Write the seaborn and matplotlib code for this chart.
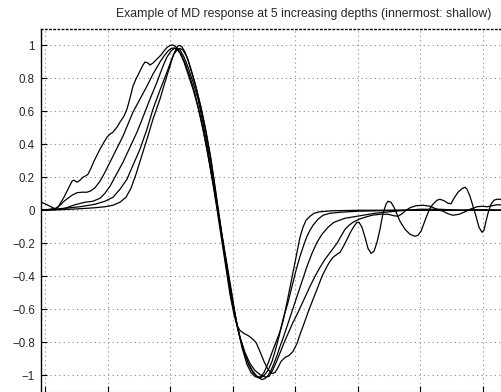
import numpy as np
import pandas as pd
import matplotlib
matplotlib.use("Agg")
import matplotlib.pyplot as plt
import seaborn as sns

# Pixel readings converted to data: x in grid units, y amplitude
PX0, PXU, PY0, PYU = 45.0, 62.5, 211.0, 164.5

c1_px = [41, 45, 50, 55, 58, 61, 64, 67, 70, 72, 74, 77, 80, 83, 86, 88, 91, 94, 97, 100, 104, 107, 110, 113, 117, 120, 124, 127, 130, 133, 136, 140, 143, 145, 148, 150, 153, 155, 158, 161, 164, 167, 170, 173, 176, 180, 184, 188, 193, 198, 203, 208, 213, 217, 221, 225, 230, 234, 237, 240, 244, 248, 252, 256, 260, 264, 268, 272, 275, 278, 281, 285, 289, 293, 297, 300, 303, 308, 313, 317, 322, 327, 330, 333, 337, 340, 344, 347, 351, 354, 357, 359, 362, 365, 368, 371, 374, 377, 380, 383, 386, 388, 391, 394, 397, 400, 405, 410, 415, 418, 421, 424, 427, 430, 433, 437, 440, 444, 448, 451, 454, 458, 462, 465, 467, 470, 473, 476, 479, 482, 484, 486, 488, 491, 494, 497, 500, 505, 510]
c1_py = [203, 204.5, 207, 209.5, 208, 203, 198, 192, 186, 182, 181, 183, 181, 178, 176.5, 175, 169, 162, 156, 150, 143, 138, 135, 133, 128, 123, 117, 110, 99, 87, 80, 72, 66, 63, 64, 66, 64, 62, 59, 56, 52, 48.5, 46.5, 46, 48, 54, 63, 75, 90, 108, 130, 156, 185, 210, 236, 262, 295, 315, 326, 331, 334, 336, 339, 343, 352, 362, 370, 374, 373, 368, 362, 358, 356, 352, 344, 335, 327, 313, 300, 290, 277, 267, 262, 258, 255, 253, 246, 240, 232, 227, 223, 223, 228, 238, 249, 254, 252, 243, 230, 214, 205, 202, 203, 208, 215, 222, 230, 235, 237, 236, 232, 224, 216, 209, 205, 201, 200, 201.5, 204, 204.5, 199, 193, 189.5, 188, 190, 197, 207, 217, 228, 233, 231, 222, 214, 205, 201, 200, 200, 202, 205]

c2_px = [41, 50, 56, 60, 64, 68, 72, 77, 82, 87, 91, 95, 100, 105, 110, 116, 123, 128, 133, 140, 147, 153, 160, 164, 168, 171, 174, 177, 181, 185, 190, 195, 200, 205, 210, 215, 219, 223, 227, 231, 236, 240, 245, 250, 255, 260, 265, 269, 273, 277, 281, 285, 289, 293, 298, 304, 310, 315, 320, 325, 331, 337, 341, 345, 349, 353, 359, 365, 372, 380, 388, 394, 398, 402, 406, 410, 416, 423, 430, 437, 443, 448, 453, 459, 464, 470, 477, 482, 487, 492, 497, 510]
c2_py = [211, 210, 209, 206, 202, 199, 196, 193.5, 193, 193, 191.5, 188.5, 182, 173, 163, 151, 137, 125, 113, 100, 87, 75, 63, 57, 52, 49.5, 49, 50.5, 55, 64, 78, 95, 116, 140, 167, 195, 220, 245, 272, 298, 322, 338, 353, 364, 371, 375, 377.5, 377, 370, 361, 351, 341, 332, 323, 313, 300, 287, 277, 268, 260, 252, 244, 237, 230, 226, 223, 220, 218, 216, 215, 215, 216.5, 217, 214.5, 211, 208.5, 206.5, 206, 207, 210, 212, 214.5, 216, 215, 213, 210, 207.5, 207, 207.5, 206.5, 205.5, 206]

c3_px = [41, 55, 65, 75, 85, 93, 100, 105, 110, 116, 123, 130, 137, 143, 150, 157, 163, 167, 171, 174, 177, 180, 184, 188, 193, 198, 203, 208, 212, 217, 221, 225, 229, 233, 238, 243, 248, 253, 258, 262, 265, 268, 271, 274, 277, 280, 284, 287, 292, 297, 302, 307, 312, 317, 322, 328, 334, 345, 357, 375, 400, 420, 440, 460, 480, 510]
c3_py = [211, 210.5, 209, 205.5, 203, 202, 199, 194, 187, 176, 163, 148, 133, 118, 100, 83, 67, 58, 52, 49.5, 49, 51, 58, 68, 83, 100, 124, 150, 175, 205, 230, 255, 280, 305, 330, 350, 363, 372, 378, 380, 379, 376, 371, 364, 356, 347, 336, 327, 312, 297, 282, 267, 254, 243, 235, 228, 223, 219, 217, 214, 211.5, 210, 210, 211, 210.5, 211]

c4_px = [41, 60, 80, 95, 105, 113, 120, 127, 133, 140, 147, 153, 160, 167, 171, 174, 177, 180, 183, 187, 190, 195, 200, 205, 210, 214, 218, 222, 227, 232, 236, 240, 245, 249, 253, 257, 261, 264, 268, 272, 275, 279, 283, 288, 292, 296, 300, 304, 307, 310, 313, 318, 323, 330, 340, 357, 400, 510]
c4_py = [211, 209.5, 207.5, 205, 202, 198, 190, 180, 166, 150, 130, 110, 91, 73, 62, 55, 51, 49.5, 51, 58, 67, 84, 105, 128, 155, 182, 210, 237, 265, 295, 320, 338, 355, 366, 373, 377, 378, 376, 371, 362, 352, 337, 320, 303, 287, 271, 257, 245, 237, 231, 226, 220, 216, 214, 213, 212, 211, 211]

c5_px = [41, 60, 80, 95, 105, 113, 120, 126, 131, 136, 141, 147, 153, 160, 165, 170, 173, 176, 178, 180, 182, 185, 188, 191, 196, 201, 206, 211, 215, 219, 223, 228, 233, 238, 242, 247, 251, 255, 258, 261, 264, 268, 272, 277, 280, 283, 288, 293, 297, 300, 303, 306, 310, 314, 320, 333, 360, 510]
c5_py = [211, 210.5, 209.5, 208.5, 207.5, 206, 203, 198, 189, 175, 159, 140, 120, 100, 83, 67, 57, 50, 47, 46.5, 48, 53, 61, 71, 88, 108, 132, 160, 187, 215, 242, 275, 304, 330, 348, 365, 373, 377, 378, 377, 373, 364, 353, 340, 332, 322, 298, 273, 253, 238, 228, 221, 217, 214, 212.5, 211.5, 211, 211]

curves_px = [c1_px, c2_px, c3_px, c4_px, c5_px]
curves_py = [c1_py, c2_py, c3_py, c4_py, c5_py]

yticks = [-1, -0.8, -0.6, -0.4, -0.2, 0, 0.2, 0.4, 0.6, 0.8, 1]
ytick_labels = ["\u22121", "\u22120.8", "\u22120.6", "\u22120.4", "\u22120.2", "0", "0.2", "0.4", "0.6", "0.8", "1"]
xticks = [0, 1, 2, 3, 4, 5, 6, 7, 8]
title = "Example of MD response at 5 increasing depths (innermost: shallow)"

rows = []
for k, (pxs, pys) in enumerate(zip(curves_px, curves_py)):
    for i, (px, py) in enumerate(zip(pxs, pys)):
        rows.append({"curve": k, "order": i,
                     "x": (px - PX0) / PXU, "y": (PY0 - py) / PYU})
df = pd.DataFrame(rows)

sns.set_style("white")
plt.rcParams["font.family"] = ["Liberation Sans", "DejaVu Sans"]

W, H = 501, 392
fig = plt.figure(figsize=(W / 100, H / 100), dpi=100)
left, right, top, bottom = 40.5, 568.0, 29.0, 391.5
ax = fig.add_axes([left / W, 1 - bottom / H, (right - left) / W, (bottom - top) / H])

sns.lineplot(data=df, x="x", y="y", units="curve", estimator=None, sort=False,
             color="black", linewidth=0.9, legend=False, ax=ax)

ax.set_xlim((left - PX0) / PXU, (right - PX0) / PXU)
ax.set_ylim(-1.1, 1.1)
ax.set_xticks(xticks)
ax.set_xticklabels([""] * len(xticks))
ax.set_yticks(yticks)
ax.set_yticklabels(ytick_labels)
ax.set_xlabel("")
ax.set_ylabel("")
ax.grid(True, linestyle=(0, (1, 3)), color="#8a8a8a", linewidth=0.8)
ax.tick_params(axis="both", direction="in", length=4, width=0.8, color="black",
               labelsize=8.3, pad=4, left=True, bottom=True)
ax.spines["left"].set_color("black")
ax.spines["left"].set_linewidth(1.0)
ax.spines["top"].set_linestyle((0, (1, 2)))
ax.spines["top"].set_color("black")
ax.spines["top"].set_linewidth(1.0)
ax.spines["bottom"].set_color("#888888")
ax.spines["right"].set_visible(False)

fig.text(304 / W, 1 - 13.5 / H, title, ha="center", va="center", fontsize=8.8)

fig.savefig("out.png", dpi=100)
